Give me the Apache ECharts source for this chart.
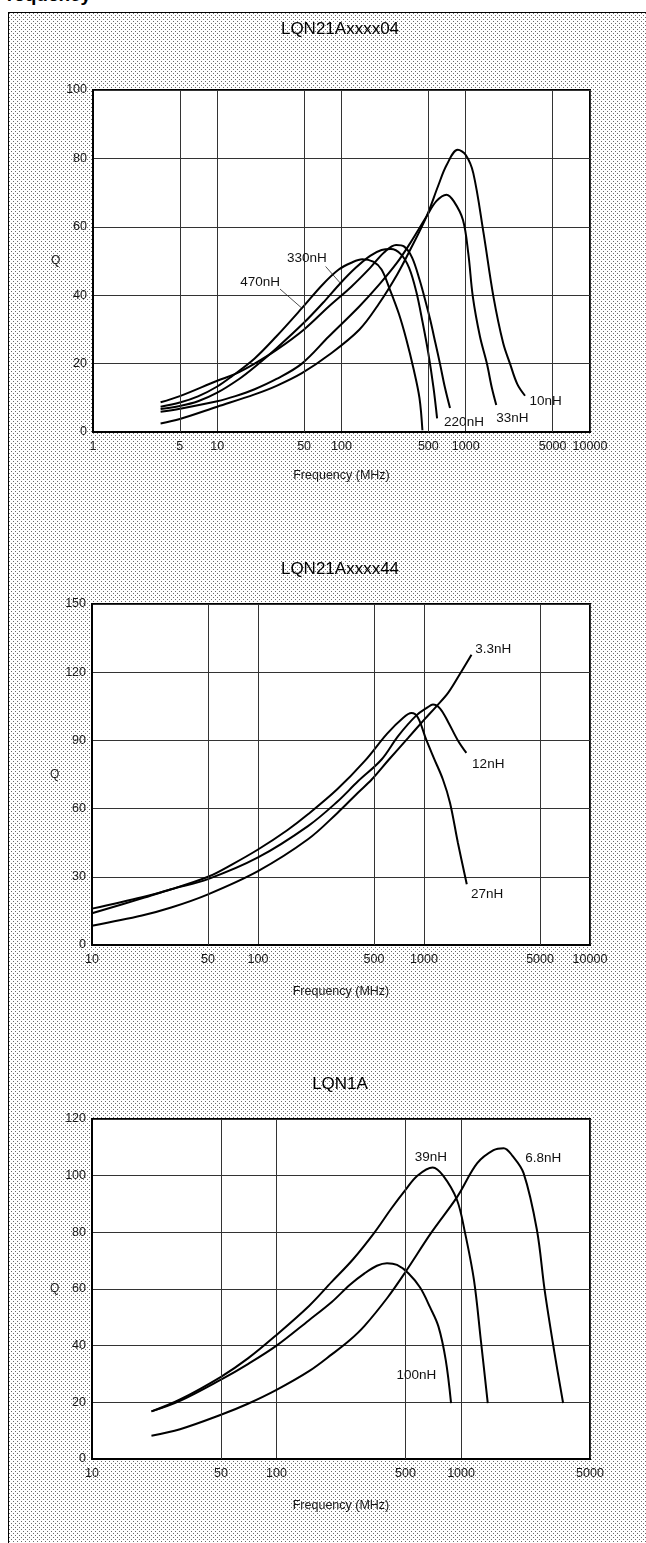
<!DOCTYPE html>
<html><head><meta charset="utf-8">
<script src="https://cdn.jsdelivr.net/npm/echarts@6/dist/echarts.min.js"></script>
<style>
html,body{margin:0;padding:0;background:#fff;}
body{width:646px;height:1543px;position:relative;overflow:hidden;}
#frame{position:absolute;left:8px;top:12px;width:640px;height:1540px;border-left:1px solid #000;border-top:1px solid #000;}
#hdr{position:absolute;left:-26px;top:-16px;font:bold 19px 'Liberation Sans',Arial,sans-serif;color:#000;white-space:nowrap;}
#chart{position:absolute;left:0;top:0;width:646px;height:1543px;}
</style></head>
<body>
<div id="hdr">Q-Frequency</div>
<div id="frame"></div>
<div id="chart"></div>
<script>
// ---------- titles / ticks ----------
const titles = ['LQN21Axxxx04', 'LQN21Axxxx44', 'LQN1A'];
const c1Half = [5, 50, 500, 5000];
const c2Half = [50, 500, 5000];
const c3Half = [50, 500];

// ---------- chart 1: LQN21Axxxx04 ----------
const c1_10nH = [[3.5,2.5],[5,3.8],[10,7.4],[20,11],[30,13.5],[48,17.2],[79,22.5],[139,29.9],[200,37.5],[280,46],[354,53],[483,63],[600,72],[700,78],[862,82.5],[1000,81],[1150,75.7],[1390,58.2],[1670,39.6],[2000,26],[2270,20],[2600,14],[3000,10.6]];
const c1_33nH = [[3.5,5.9],[5,6.8],[10,9],[14,10.5],[20,12.5],[30,15.5],[48,20],[79,27.9],[139,36.7],[200,43],[280,49.5],[354,55],[483,63],[580,67.5],[700,69.4],[800,67.5],[950,62],[1050,52],[1140,39.6],[1300,28],[1480,20],[1620,13],[1760,7.9]];
const c1_220nH = [[3.5,8.7],[5,10.5],[10,15],[14,17],[20,20],[30,24],[50,30],[79,36.7],[120,42.5],[170,48],[220,52.5],[275,54.7],[320,54.2],[370,51],[425,44.5],[480,37.5],[520,32.5],[570,26],[620,20],[680,13],[747,7]];
const c1_330nH = [[3.5,6.7],[5,7.6],[7,9],[10,11.5],[15,15.5],[20,19],[30,24.5],[50,32],[74,38.5],[98,43.5],[130,48],[170,51.5],[210,53.2],[250,53.5],[300,52],[350,48],[400,41],[450,32],[500,23],[550,13],[588,4]];
const c1_470nH = [[3.5,7.4],[5,8.6],[7,10.4],[10,13.3],[13,16.2],[20,21.5],[30,28],[48,36.2],[70,43],[95,47.5],[120,49.5],[147,50.5],[180,49.8],[210,47.5],[243,42],[290,34.5],[333,27],[380,18.5],[424,10],[448,0.5]];
const c1Labels = [['330nH',52.7,50.8],['470nH',22.1,43.7],['220nH',968,2.9],['33nH',2370,4.1],['10nH',4390,9.1]];
const c1Leaders = [[[74.5,48.4],[98,43.5]],[[32,41.8],[48,36.2]]];

// ---------- chart 2: LQN21Axxxx44 ----------
const c2_3n3H = [[10,8.5],[20,13],[30,16.5],[50,22.3],[100,32.5],[200,46.5],[300,58],[400,67],[484,72.8],[615,81.6],[800,91],[1000,99],[1188,105],[1400,111],[1670,120],[1932,127.7]];
const c2_12nH = [[10,14],[20,20.5],[30,24.5],[50,29],[100,38.5],[200,52.3],[300,63],[400,72],[555,81.6],[700,92],[900,101],[1050,104.5],[1132,105.8],[1250,104],[1400,98],[1600,90],[1800,84.5]];
const c2_27nH = [[10,16],[20,21],[30,24.5],[50,30],[70,35.5],[100,42],[150,50.5],[200,57.5],[300,68.5],[440,81],[600,93],[750,100],[840,102],[920,100],[1030,90.4],[1150,82],[1300,72.8],[1434,62.6],[1600,45],[1810,26.7]];
const c2Labels = [['3.3nH',2612,129.9],['12nH',2438,79.4],['27nH',2404,22.3]];

// ---------- chart 3: LQN1A ----------
const c3_6n8H = [[21,8.2],[30,10.5],[50,15.6],[70,19.5],[100,24.4],[150,31],[200,37],[250,42],[300,47],[400,57],[500,66],[687,79.7],[955,92.6],[1224,104.4],[1500,109],[1703,109.7],[1900,107],[2183,100.9],[2577,80.9],[2838,59.7],[3200,38],[3574,19.75]];
const c3_39nH = [[21,16.8],[30,21],[50,29],[70,35.5],[100,43.8],[150,54],[199,62.5],[260,70.5],[340,80],[420,88.5],[500,95],[580,100],[702,102.9],[800,100],[950,91.5],[1050,80],[1175,63.2],[1280,42],[1396,19.75]];
const c3_100nH = [[21,16.8],[30,20.5],[50,28],[70,33.5],[100,40],[150,49],[200,55.5],[250,61.5],[300,65.5],[350,68.2],[397,69.1],[450,68.5],[520,65.5],[600,60.5],[680,53.5],[754,46.8],[826,35],[883,19.75]];
const c3Labels = [['39nH',687,106.5],['6.8nH',2792,106.2],['100nH',573,29.7]];

// ---------- background stipple ----------
(function(){
  const t = document.createElement('canvas'); t.width = 4; t.height = 4;
  const g = t.getContext('2d'); g.fillStyle = '#fff'; g.fillRect(0,0,4,4);
  g.fillStyle = '#6a6a6a'; g.fillRect(0,0,1,1); g.fillRect(2,2,1,1);
  document.getElementById('frame').style.backgroundImage = 'url(' + t.toDataURL() + ')';
})();

const FONT = "'Liberation Sans', Arial, sans-serif";
const TXT = '#1a1a1a';
const GRIDC = '#333';

const grids = [
  {left:93, top:90, width:497, height:342},
  {left:92, top:604, width:498, height:341},
  {left:92, top:1119, width:498, height:340}
].map(g => Object.assign(g, {show:true, backgroundColor:'#fff', borderColor:'#000', borderWidth:2, containLabel:false}));

function xAx(i, min, max, gap){
  return {type:'log', logBase:10, gridIndex:i, min:min, max:max,
    axisLine:{show:true, lineStyle:{color:'#000', width:2}},
    axisTick:{show:false},
    axisLabel:{color:TXT, fontSize:12.5, fontFamily:FONT, margin:8, formatter:v=>String(Math.round(v))},
    splitLine:{show:true, lineStyle:{color:GRIDC, width:1}},
    name:'Frequency (MHz)', nameLocation:'middle', nameGap:gap,
    nameTextStyle:{color:TXT, fontSize:12.5, fontFamily:FONT}};
}
function yAx(i, max, step){
  return {type:'value', gridIndex:i, min:0, max:max, interval:step,
    axisLine:{show:true, lineStyle:{color:'#000', width:2}},
    axisTick:{show:false},
    axisLabel:{color:TXT, fontSize:12.5, fontFamily:FONT, margin:6},
    splitLine:{show:true, lineStyle:{color:GRIDC, width:1}},
    name:'Q', nameLocation:'middle', nameGap:16, nameRotate:0,
    nameTextStyle:{color:TXT, fontSize:12, fontFamily:FONT}};
}

function curve(i, data){
  return {type:'line', xAxisIndex:i, yAxisIndex:i, data:data, smooth:0.35,
    showSymbol:false, silent:true, z:3,
    lineStyle:{color:'#000', width:2}};
}
function decor(i, halfs, labels, leaders){
  const ml = halfs.map(v => ({xAxis:v, label:{show:true, position:'start', formatter:String(v), distance:8,
      color:TXT, fontSize:12.5, fontFamily:FONT}}));
  (leaders||[]).forEach(l => ml.push([{coord:l[0], lineStyle:{width:0.8, color:'#222'}, label:{show:false}}, {coord:l[1]}]));
  return {type:'line', xAxisIndex:i, yAxisIndex:i, data:[], silent:true, z:2,
    markLine:{symbol:'none', silent:true, animation:false,
      lineStyle:{color:GRIDC, width:1, type:'solid'}, data:ml},
    markPoint:{symbol:'rect', symbolSize:1, silent:true, animation:false,
      itemStyle:{color:'rgba(0,0,0,0)'},
      label:{show:true, position:'inside', color:'#111', fontSize:13.5, fontFamily:FONT, formatter:'{b}'},
      data: labels.map(l => ({name:l[0], coord:[l[1], l[2]]}))}};
}

const option = {
  animation:false,
  backgroundColor:'transparent',
  title: [
    {text:titles[0], top:16},
    {text:titles[1], top:556},
    {text:titles[2], top:1071}
  ].map(t => Object.assign(t, {textStyle:{fontSize:17, fontWeight:'normal', color:'#000', fontFamily:FONT}, left:335, textAlign:'center'})),
  grid: grids,
  xAxis: [xAx(0,1,10000,37), xAx(1,10,10000,40), xAx(2,10,5000,40)],
  yAxis: [yAx(0,100,20), yAx(1,150,30), yAx(2,120,20)],
  series: [
    decor(0, c1Half, c1Labels, c1Leaders),
    curve(0, c1_10nH), curve(0, c1_33nH), curve(0, c1_220nH), curve(0, c1_330nH), curve(0, c1_470nH),
    decor(1, c2Half, c2Labels),
    curve(1, c2_3n3H), curve(1, c2_12nH), curve(1, c2_27nH),
    decor(2, c3Half, c3Labels),
    curve(2, c3_6n8H), curve(2, c3_39nH), curve(2, c3_100nH)
  ]
};
const chart = echarts.init(document.getElementById('chart'), null, {renderer:'canvas'});
chart.setOption(option);
</script>
</body></html>
